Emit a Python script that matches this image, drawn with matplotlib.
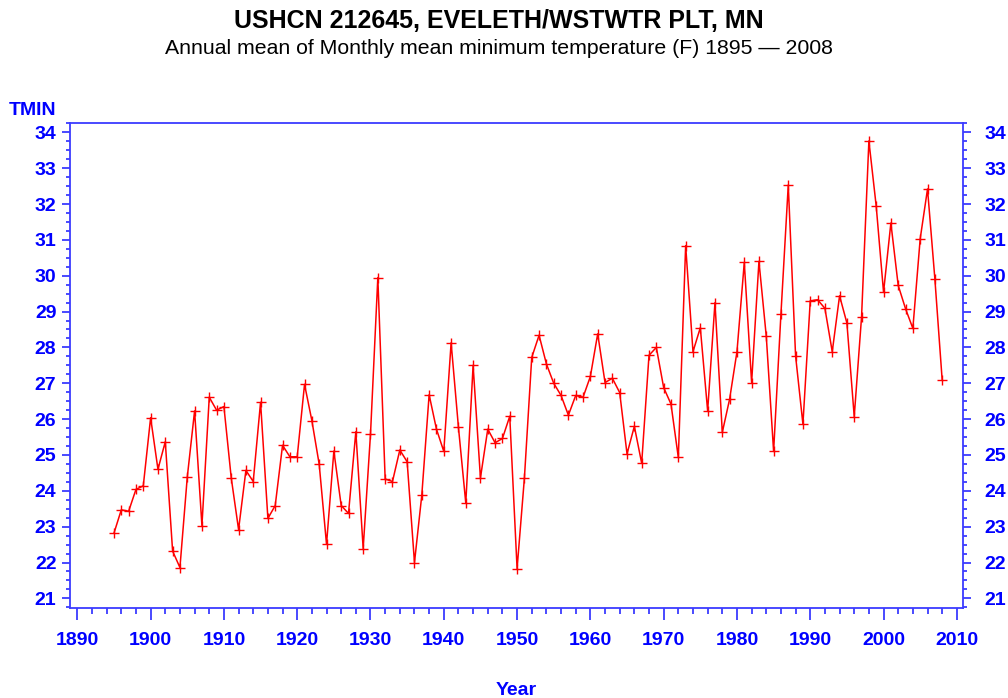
import matplotlib
matplotlib.use("Agg")
import matplotlib.pyplot as plt
from matplotlib.ticker import MultipleLocator

# annual mean TMIN (F)
years = list(range(1895, 2009))
tmin = [
    22.82, 23.47, 23.43, 24.04, 24.14, 26.04, 24.60, 25.37, 22.32, 21.86,  # 1895-1904
    24.38, 26.23, 23.03, 26.61, 26.25, 26.35, 24.36, 22.92, 24.57, 24.26,  # 1905-1914
    26.47, 23.23, 23.59, 25.27, 24.95, 24.95, 26.97, 25.96, 24.74, 22.51,  # 1915-1924
    25.11, 23.59, 23.37, 25.65, 22.39, 25.58, 29.95, 24.33, 24.26, 25.14,  # 1925-1934
    24.81, 22.00, 23.88, 26.68, 25.72, 25.10, 28.13, 25.77, 23.66, 27.50,  # 1935-1944
    24.36, 25.72, 25.34, 25.46, 26.08, 21.83, 24.36, 27.72, 28.34, 27.54,  # 1945-1954
    27.00, 26.66, 26.11, 26.66, 26.61, 27.19, 28.38, 27.02, 27.14, 26.74,  # 1955-1964
    25.03, 25.80, 24.77, 27.78, 28.00, 26.88, 26.42, 24.93, 30.84, 27.88,  # 1965-1974
    28.55, 26.23, 29.25, 25.63, 26.56, 27.88, 30.37, 27.02, 30.40, 28.31,  # 1975-1984
    25.10, 28.93, 32.53, 27.76, 25.86, 29.30, 29.33, 29.09, 27.88, 29.44,  # 1985-1994
    28.68, 26.07, 28.85, 33.76, 31.94, 29.54, 31.47, 29.73, 29.08, 28.53,  # 1995-2004
    31.03, 32.42, 29.92, 27.09,                                            # 2005-2008
]

title = "USHCN 212645, EVELETH/WSTWTR PLT, MN"
subtitle = "Annual mean of Monthly mean minimum temperature (F) 1895 \u2014 2008"

plt.rcParams['font.family'] = ['Liberation Sans', 'DejaVu Sans']

blue = '#0000ff'
axblue = '#3c3cff'

W, H = 1008, 698
fig = plt.figure(figsize=(W / 100, H / 100), dpi=100)
left, right, top, bottom = 70, 962.7, 123, 607.7
ax = fig.add_axes([left / W, 1 - bottom / H, (right - left) / W, (bottom - top) / H])

ax.plot(years, tmin, color='red', lw=1.1, marker='+', ms=7, mew=1.0)

ax.set_xlim(1889.0, 2010.8)
ax.set_ylim(20.74, 34.26)
ax.xaxis.set_major_locator(MultipleLocator(10))
ax.xaxis.set_minor_locator(MultipleLocator(2))
ax.yaxis.set_major_locator(MultipleLocator(1))
ax.yaxis.set_minor_locator(MultipleLocator(0.25))

for s in ax.spines.values():
    s.set_color(axblue)
    s.set_linewidth(1.3)

ax.tick_params(axis='x', which='major', length=8.6, width=1.3, color=axblue,
               labelcolor=blue, labelsize=14, pad=9)
ax.tick_params(axis='x', which='minor', length=4.3, width=1.3, color=axblue)
ax.tick_params(axis='y', which='major', length=5.8, width=1.3, color=axblue,
               labelcolor=blue, labelsize=14, pad=4)
ax.tick_params(axis='y', which='minor', length=2.8, width=1.3, color=axblue)
for lab in ax.get_xticklabels() + ax.get_yticklabels():
    lab.set_fontweight('bold')

# right-hand axis repeats the y scale
ax2 = ax.twinx()
ax2.set_ylim(ax.get_ylim())
ax2.yaxis.set_major_locator(MultipleLocator(1))
ax2.yaxis.set_minor_locator(MultipleLocator(0.25))
for s in ax2.spines.values():
    s.set_visible(False)
ax2.tick_params(axis='y', which='major', length=5.8, width=1.3, color=axblue,
                labelcolor=blue, labelsize=14, pad=10)
ax2.tick_params(axis='y', which='minor', length=2.8, width=1.3, color=axblue)
for lab in ax2.get_yticklabels():
    lab.set_fontweight('bold')

fig.text(499 / W, 1 - 28 / H, title, ha='center', va='baseline',
         fontsize=18, fontweight='bold', color='black')
fig.text(499 / W, 1 - 54 / H, subtitle, ha='center', va='baseline',
         fontsize=15.3, color='black')
fig.text(9 / W, 1 - 115 / H, 'TMIN', ha='left', va='baseline',
         fontsize=14, fontweight='bold', color=blue)
fig.text(516 / W, 1 - 695 / H, 'Year', ha='center', va='baseline',
         fontsize=14, fontweight='bold', color=blue)

fig.savefig('out.png', dpi=100, facecolor='white')
